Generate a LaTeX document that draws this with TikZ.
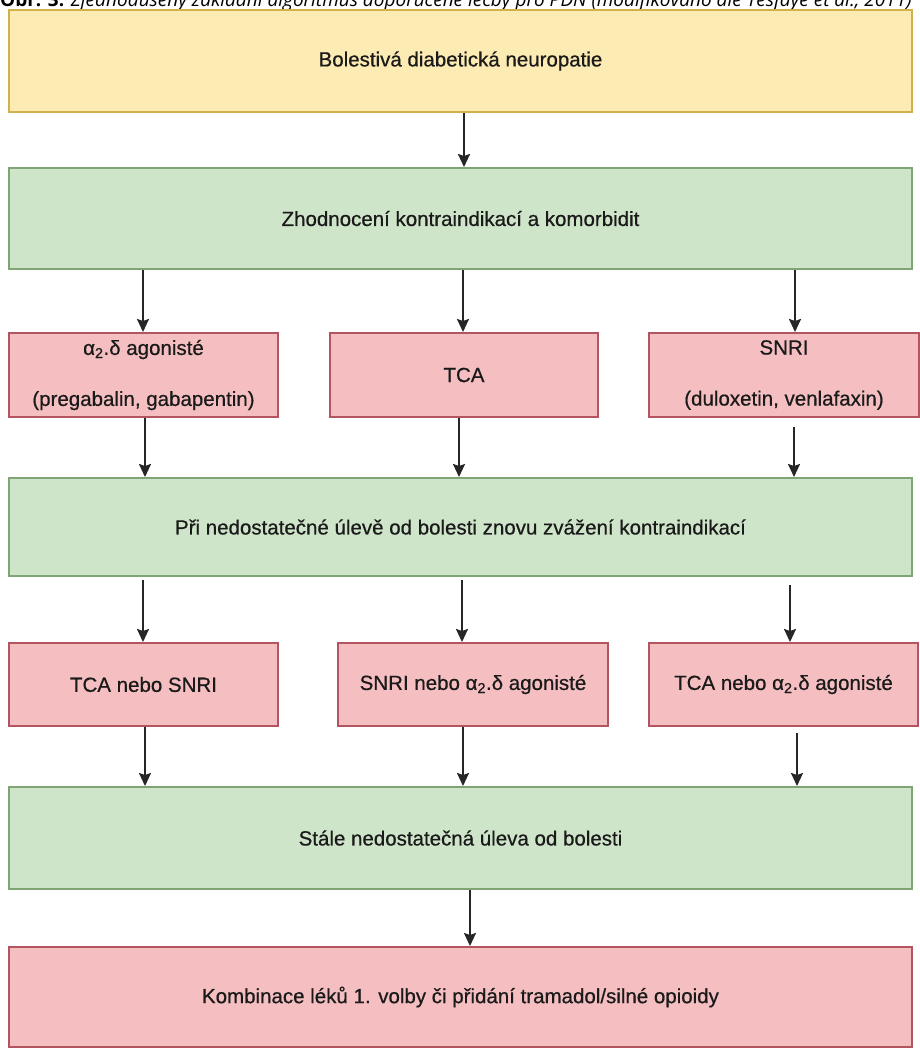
\documentclass[tikz,border=0pt]{standalone}
\usepackage{fontspec}
\setmainfont{Liberation Sans}[FakeBold=0.6]
\newfontfamily\boxfont{Liberation Sans}[FakeBold=0.6]
\newfontfamily\capfont{Open Sans}
\usetikzlibrary{arrows.meta,calc}
\definecolor{yfill}{HTML}{FDEBB4}
\definecolor{ydraw}{HTML}{D2B04C}
\definecolor{gfill}{HTML}{CFE5CA}
\definecolor{gdraw}{HTML}{7FA574}
\definecolor{pfill}{HTML}{F5BFC1}
\definecolor{pdraw}{HTML}{B35560}
\definecolor{txt}{HTML}{1A1A1A}
\tikzset{
  box/.style={rectangle, inner sep=0pt, line width=2pt, align=center,
    font=\boxfont\fontsize{20.5}{25}\selectfont, text=txt},
  ybox/.style={box, fill=yfill, draw=ydraw},
  gbox/.style={box, fill=gfill, draw=gdraw},
  pbox/.style={box, fill=pfill, draw=pdraw},
  arr/.style={line width=2pt, draw=black!85,
    -{Stealth[length=13pt,width=12pt,inset=2pt]}}
}
\begin{document}
\begin{tikzpicture}[x=1pt,y=-1pt]
\useasboundingbox (0,0) rectangle (920,1050);
\fill[white] (0,0) rectangle (920,1050);
\begin{scope}
\clip (0,0) rectangle (920,1050);
\node[anchor=base west, inner sep=0pt, font=\capfont\fontsize{19}{22}\selectfont] (cap) at (0,6)
  {\textbf{Obr. 3.} \textit{Zjednodušený základní algoritmus doporučené léčby pro PDN (modifikováno dle Tesfaye et al., 2011)}};
\end{scope}

% columns for connectors
\coordinate (c0) at (464,0);
\coordinate (a1) at (143,0);
\coordinate (a2) at (463,0);
\coordinate (a3) at (795,0);
\coordinate (b1) at (145,0);
\coordinate (b2) at (459,0);
\coordinate (b3) at (794,0);
\coordinate (d1) at (143,0);
\coordinate (d2) at (462,0);
\coordinate (d3) at (790,0);
\coordinate (e1) at (145,0);
\coordinate (e2) at (463,0);
\coordinate (e3) at (797,0);
\coordinate (f0) at (470,0);

\node[ybox, minimum width=903pt, minimum height=102pt] (top) at (460.5,61) {Bolestivá diabetická neuropatie};
\node[gbox, minimum width=903pt, minimum height=101pt] (g1) at (460.5,218.5) {Zhodnocení kontraindikací a komorbidit};

\node[pbox, minimum width=269pt, minimum height=84pt] (p1a) at (143.5,375)
  {α\textsubscript{2}.δ agonisté\\[26pt](pregabalin, gabapentin)};
\node[pbox, minimum width=268pt, minimum height=84pt] (p1b) at (464,375) {TCA};
\node[pbox, minimum width=270pt, minimum height=84pt] (p1c) at (784,375)
  {SNRI\\[26pt](duloxetin, venlafaxin)};

\node[gbox, minimum width=903pt, minimum height=98pt] (g2) at (460.5,527)
  {Při nedostatečné úlevě od bolesti znovu zvážení kontraindikací};

\node[pbox, minimum width=269pt, minimum height=83pt] (p2a) at (143.5,684.5) {TCA nebo SNRI};
\node[pbox, minimum width=270pt, minimum height=83pt] (p2b) at (473,684.5) {SNRI nebo α\textsubscript{2}.δ agonisté};
\node[pbox, minimum width=269pt, minimum height=83pt] (p2c) at (783.5,684.5) {TCA nebo α\textsubscript{2}.δ agonisté};

\node[gbox, minimum width=903pt, minimum height=102pt] (g3) at (460.5,838) {Stále nedostatečná úleva od bolesti};
\node[pbox, minimum width=903pt, minimum height=100pt] (bot) at (460.5,997)
  {Kombinace léků 1. volby či přidání tramadol/silné opioidy};

\draw[arr] (top.south -| c0) -- (g1.north -| c0);

\draw[arr] (g1.south -| a1) -- (p1a.north -| a1);
\draw[arr] (g1.south -| a2) -- (p1b.north -| a2);
\draw[arr] (g1.south -| a3) -- (p1c.north -| a3);

\draw[arr] (p1a.south -| b1) -- (g2.north -| b1);
\draw[arr] (p1b.south -| b2) -- (g2.north -| b2);
\draw[arr, shorten <=9pt] (p1c.south -| b3) -- (g2.north -| b3);

\draw[arr, shorten <=3pt] (g2.south -| d1) -- (p2a.north -| d1);
\draw[arr, shorten <=3pt] (g2.south -| d2) -- (p2b.north -| d2);
\draw[arr, shorten <=8pt] (g2.south -| d3) -- (p2c.north -| d3);

\draw[arr] (p2a.south -| e1) -- (g3.north -| e1);
\draw[arr] (p2b.south -| e2) -- (g3.north -| e2);
\draw[arr, shorten <=6pt] (p2c.south -| e3) -- (g3.north -| e3);

\draw[arr] (g3.south -| f0) -- (bot.north -| f0);
\end{tikzpicture}
\end{document}
